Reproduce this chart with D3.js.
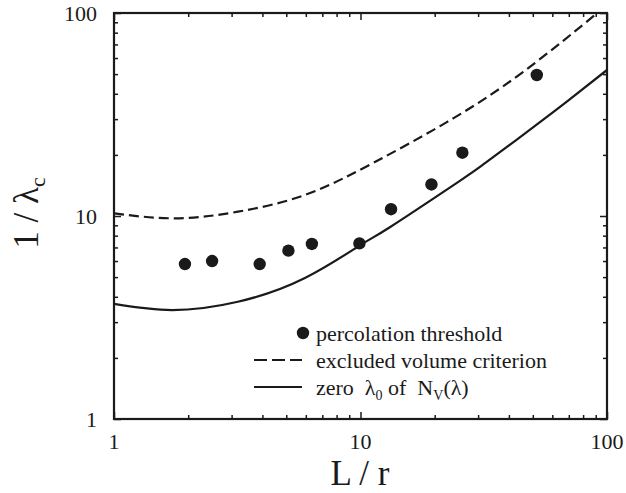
<!DOCTYPE html>
<html>
<head>
<meta charset="utf-8">
<script src="https://cdn.jsdelivr.net/npm/d3@7"></script>
</head>
<body style="margin:0;padding:0;background:#fff">
<svg id="chart" width="626" height="493" font-family="Liberation Serif, Times New Roman, serif" style="display:block"></svg>
<script>
// Percolation threshold data points (L/r, 1/lambda_c)
const pointLr = [1.94, 2.5, 3.9, 5.1, 6.35, 9.9, 13.3, 19.4, 25.9, 51.9];
const pointInvLambda = [5.8, 6.0, 5.8, 6.75, 7.28, 7.33, 10.8, 14.3, 20.5, 49.5];

// Excluded volume criterion curve
const excludedLr = [1, 1.77, 3.18, 5.95, 11.2, 22.4, 45.6, 91.1, 100];
const excludedInvLambda = [10.3, 9.74, 10.5, 12.7, 18.2, 29.0, 51.2, 99.7, 109];

// Zero lambda_0 of N_V(lambda) curve
const zeroLr = [1, 1.72, 3.18, 5.95, 10, 13.2, 25.3, 32, 50.1, 70.8, 100];
const zeroInvLambda = [3.69, 3.44, 3.78, 4.95, 7.2, 8.83, 14.9, 18.2, 27.3, 37.6, 52.4];

// Axis ticks
const majorTicks = [1, 10, 100];
const majorTickLabels = ["1", "10", "100"];
const minorTicks = [2, 3, 4, 5, 6, 7, 8, 9, 20, 30, 40, 50, 60, 70, 80, 90];

const legendLabels = ["percolation threshold", "excluded volume criterion"];

const svg = d3.select("#chart");
const plotLeft = 114, plotRight = 607, plotTop = 13, plotBottom = 419;

const x = d3.scaleLog().domain([1, 100]).range([plotLeft, plotRight]);
const y = d3.scaleLog().domain([1, 100]).range([plotBottom, plotTop]);

const ink = "#1a1a1a";
const serifFace = "Liberation Serif, Times New Roman, serif";

// Text helper: serif face on every label
function label(parent, size) {
  return parent.append("text")
    .attr("font-family", serifFace)
    .attr("xml:space", "preserve")
    .attr("font-size", size).attr("fill", ink);
}

svg.append("defs").append("clipPath").attr("id", "plotClip")
  .append("rect").attr("x", plotLeft).attr("y", plotTop)
  .attr("width", plotRight - plotLeft).attr("height", plotBottom - plotTop);

// Curves: natural spline through the sampled points in screen (log-log) space
const line = d3.line().x(d => x(d[0])).y(d => y(d[1])).curve(d3.curveNatural);
const plot = svg.append("g").attr("clip-path", "url(#plotClip)");

plot.append("path")
  .datum(excludedLr.map((v, i) => [v, excludedInvLambda[i]]))
  .attr("d", line).attr("fill", "none").attr("stroke", ink)
  .attr("stroke-width", 2.2).attr("stroke-dasharray", "10,5");

plot.append("path")
  .datum(zeroLr.map((v, i) => [v, zeroInvLambda[i]]))
  .attr("d", line).attr("fill", "none").attr("stroke", ink)
  .attr("stroke-width", 2.2);

plot.selectAll("circle.pt")
  .data(pointLr.map((v, i) => [v, pointInvLambda[i]]))
  .join("circle").attr("class", "pt")
  .attr("cx", d => x(d[0])).attr("cy", d => y(d[1]))
  .attr("r", 6.2).attr("fill", ink);

// Inward ticks on all four sides
function styleAxis(g) {
  g.select(".domain").remove();
  g.selectAll("line").attr("stroke", ink).attr("stroke-width", 1.5);
  g.selectAll("text").remove();
  g.attr("font-family", null).attr("font-size", null);
}
const sides = [
  [d3.axisBottom(x), `translate(0,${plotBottom})`],
  [d3.axisTop(x), `translate(0,${plotTop})`],
  [d3.axisLeft(y), `translate(${plotLeft},0)`],
  [d3.axisRight(y), `translate(${plotRight},0)`]
];
sides.forEach(([ax, tr]) => {
  svg.append("g").attr("transform", tr)
    .call(ax.tickValues(majorTicks).tickSize(-7)).call(styleAxis);
  svg.append("g").attr("transform", tr)
    .call(ax.tickValues(minorTicks).tickSize(-4)).call(styleAxis);
});

// Frame
svg.append("rect").attr("x", plotLeft).attr("y", plotTop)
  .attr("width", plotRight - plotLeft).attr("height", plotBottom - plotTop)
  .attr("fill", "none").attr("stroke", ink).attr("stroke-width", 2.2);

// Tick labels
majorTicks.forEach((v, i) => {
  label(svg, 22).attr("x", x(v)).attr("y", 449)
    .attr("text-anchor", "middle").text(majorTickLabels[i]);
  label(svg, 22).attr("x", 97).attr("y", y(v) + 8)
    .attr("text-anchor", "end").text(majorTickLabels[i]);
});

// Axis titles
label(svg, 35).attr("x", 360).attr("y", 485).attr("text-anchor", "middle").text("L / r");

const yTitle = label(svg, 35)
  .attr("transform", "translate(38,213) rotate(-90)")
  .attr("text-anchor", "middle");
yTitle.append("tspan").text("1 / λ");
yTitle.append("tspan").attr("font-size", 22).attr("dy", 7).text("c");

// Legend
const lg = svg.append("g");
lg.append("circle").attr("cx", 303).attr("cy", 333).attr("r", 6.2).attr("fill", ink);
lg.append("line").attr("x1", 254).attr("x2", 302).attr("y1", 360).attr("y2", 360)
  .attr("stroke", ink).attr("stroke-width", 2.2).attr("stroke-dasharray", "13,5");
lg.append("line").attr("x1", 254).attr("x2", 302).attr("y1", 387).attr("y2", 387)
  .attr("stroke", ink).attr("stroke-width", 2.2);

legendLabels.forEach((t, i) => {
  label(lg, 22).attr("x", 316).attr("y", 341 + i * 27).text(t);
});

const t3 = label(lg, 22).attr("x", 316).attr("y", 395);
t3.append("tspan").text("zero  λ");
t3.append("tspan").attr("font-size", 14).attr("dy", 5).text("0");
t3.append("tspan").attr("dy", -5).text(" of  N");
t3.append("tspan").attr("font-size", 14).attr("dy", 5).text("V");
t3.append("tspan").attr("dy", -5).text("(λ)");
</script>
</body>
</html>
